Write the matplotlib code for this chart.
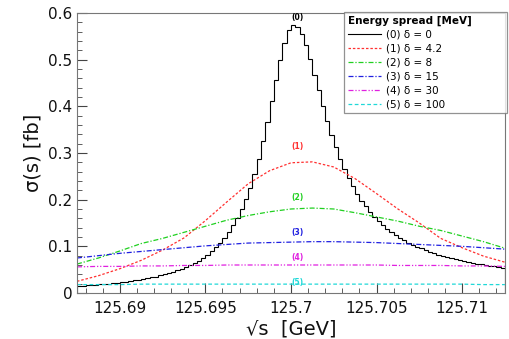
import numpy as np
import matplotlib
matplotlib.use("Agg")
import matplotlib.pyplot as plt
from matplotlib.ticker import MultipleLocator, FixedLocator

# histogram (0): delta = 0, bins of 0.25 MeV from 125.6875 to 125.7125 GeV
hist_lo, hist_hi = 125.6875, 125.7125
sigma0 = [0.0151, 0.0157, 0.0163, 0.0170, 0.0177, 0.0185, 0.0193, 0.0201, 0.0211, 0.0221,
          0.0231, 0.0243, 0.0255, 0.0269, 0.0283, 0.0298, 0.0315, 0.0333, 0.0353, 0.0375,
          0.0398, 0.0424, 0.0451, 0.0483, 0.0517, 0.0555, 0.0596, 0.0643, 0.0695, 0.0754,
          0.0819, 0.0893, 0.0976, 0.107, 0.118, 0.130, 0.145, 0.161, 0.180, 0.202,
          0.226, 0.256, 0.288, 0.326, 0.366, 0.411, 0.456, 0.500, 0.536, 0.563,
          0.575, 0.571, 0.556, 0.531, 0.502, 0.468, 0.434, 0.401, 0.369, 0.339,
          0.3125, 0.288, 0.266, 0.246, 0.2285, 0.2127, 0.198, 0.1856, 0.174, 0.1637,
          0.154, 0.1457, 0.1379, 0.1309, 0.1243, 0.1185, 0.113, 0.1081, 0.1037, 0.0993,
          0.0955, 0.0917, 0.0885, 0.0851, 0.0824, 0.0794, 0.077, 0.0744, 0.0723, 0.070,
          0.0681, 0.0661, 0.0645, 0.0626, 0.0612, 0.0597, 0.0582, 0.0569, 0.0555, 0.0543]

# smeared curves sampled every 1.25 MeV
sqrt_s = [125.6875, 125.68875, 125.69, 125.69125, 125.6925, 125.69375, 125.695,
          125.69625, 125.6975, 125.69875, 125.7, 125.70125, 125.7025, 125.70375,
          125.705, 125.70625, 125.7075, 125.70875, 125.71, 125.71125, 125.7125]
sigma1 = [0.025, 0.037, 0.052, 0.070, 0.092, 0.118, 0.155, 0.195, 0.234, 0.262, 0.279,
          0.281, 0.270, 0.245, 0.213, 0.180, 0.150, 0.117, 0.097, 0.079, 0.066]
sigma2 = [0.062, 0.075, 0.090, 0.106, 0.117, 0.130, 0.143, 0.156, 0.166, 0.174, 0.180,
          0.182, 0.180, 0.172, 0.163, 0.154, 0.143, 0.134, 0.122, 0.110, 0.096]
sigma3 = [0.075, 0.080, 0.085, 0.089, 0.093, 0.097, 0.101, 0.104, 0.107, 0.108, 0.109,
          0.110, 0.110, 0.109, 0.108, 0.106, 0.104, 0.102, 0.100, 0.097, 0.094]
sigma4 = [0.056, 0.057, 0.057, 0.058, 0.058, 0.059, 0.059, 0.060, 0.060, 0.060, 0.060,
          0.060, 0.060, 0.060, 0.060, 0.059, 0.059, 0.059, 0.058, 0.058, 0.057]
sigma5 = [0.018, 0.018, 0.018, 0.019, 0.019, 0.019, 0.019, 0.019, 0.019, 0.019, 0.019,
          0.019, 0.019, 0.019, 0.019, 0.019, 0.019, 0.019, 0.019, 0.018, 0.018]

labels = ["(0) δ = 0", "(1) δ = 4.2", "(2) δ = 8", "(3) δ = 15", "(4) δ = 30", "(5) δ = 100"]
tags = ["(0)", "(1)", "(2)", "(3)", "(4)", "(5)"]
tag_y = [0.591, 0.313, 0.204, 0.129, 0.075, 0.023]

colors = ["black", "#ff3030", "#20d020", "#2020e0", "#e020e0", "#20d8d8"]
styles = ["-", (0, (2, 1.5)), (0, (4, 1.5, 1, 1.5)), (0, (4, 1.5, 1, 1.5)),
          (0, (4, 1.5, 1, 1.5, 1, 1.5)), (0, (3, 2))]

fig = plt.figure(figsize=(5.1, 3.39), dpi=100)
ax = fig.add_axes([0.151, 0.1357, 0.839, 0.826])

edges = np.linspace(hist_lo, hist_hi, len(sigma0) + 1)
ax.stairs(sigma0, edges, color=colors[0], lw=0.8, label=labels[0])
for vals, c, ls, lab in zip([sigma1, sigma2, sigma3, sigma4, sigma5],
                            colors[1:], styles[1:], labels[1:]):
    ax.plot(sqrt_s, vals, color=c, ls=ls, lw=0.9, label=lab)

for t, y, c in zip(tags, tag_y, colors):
    ax.text(125.7004, y, t, color=c, fontsize=5.5, fontweight="bold",
            ha="center", va="center")

ax.set_xlim(125.6875, 125.7125)
ax.set_ylim(0, 0.6)
ax.xaxis.set_major_locator(FixedLocator([125.69, 125.695, 125.7, 125.705, 125.71]))
ax.xaxis.set_minor_locator(MultipleLocator(0.001))
ax.yaxis.set_major_locator(MultipleLocator(0.1))
ax.yaxis.set_minor_locator(MultipleLocator(0.02))
ax.set_xticklabels(["125.69", "125.695", "125.7", "125.705", "125.71"])
ax.set_yticks([0, 0.1, 0.2, 0.3, 0.4, 0.5, 0.6])
ax.set_yticklabels(["0", "0.1", "0.2", "0.3", "0.4", "0.5", "0.6"])
ax.tick_params(which="both", direction="in", labelsize=11, colors="#444444",
               labelcolor="#111111")
ax.tick_params(which="major", length=7)
ax.tick_params(which="minor", length=3.5)
ax.tick_params(axis="x", pad=6)
for sp in ax.spines.values():
    sp.set_color("#777777")

ax.set_xlabel("√s  [GeV]", fontsize=14, labelpad=2, color="#111111")
ax.set_ylabel("σ(s) [fb]", fontsize=14, labelpad=4, color="#111111")

leg = ax.legend(loc="upper left", bbox_to_anchor=(0.624, 0.629, 0.381, 0.375),
                mode="expand", title="Energy spread [MeV]", fontsize=7.5,
                title_fontproperties={"size": 7.5, "weight": "bold"},
                frameon=True, fancybox=False, edgecolor="#777777",
                handlelength=3.2, handletextpad=0.5, labelspacing=0.38,
                borderaxespad=0, borderpad=0.35, alignment="left")
leg.get_frame().set_linewidth(0.9)

fig.savefig("out.png", dpi=100)
